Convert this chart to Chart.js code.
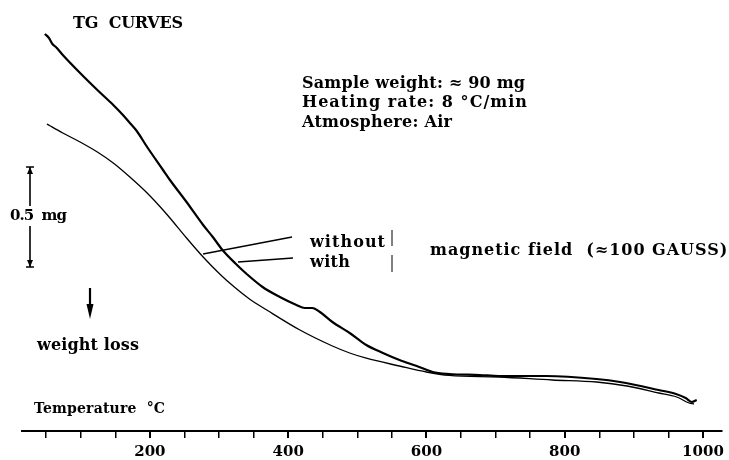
<!DOCTYPE html>
<html>
<head>
<meta charset="utf-8">
<script src="https://cdn.jsdelivr.net/npm/chart.js@4/dist/chart.umd.min.js"></script>
<style>
html,body{margin:0;padding:0;background:#fff;}
#wrap{width:729px;height:460px;}
</style>
</head>
<body>
<div id="wrap"><canvas id="c" width="729" height="460"></canvas></div>
<script>
// Temperature (°C) and relative sample weight (mg)
const tempWith = [48, 54, 59, 64, 74, 99, 124, 147, 161, 171, 181, 196, 219, 229, 253, 277, 291, 305, 326, 340, 363, 388, 412, 424, 435, 446, 464, 489, 513, 537, 561, 586, 609, 633, 677, 705, 773, 846, 880, 936, 961, 975, 984, 991];
const massWith = [1.985, 1.965, 1.935, 1.92, 1.88, 1.79, 1.705, 1.63, 1.58, 1.54, 1.50, 1.42, 1.305, 1.255, 1.145, 1.03, 0.97, 0.905, 0.83, 0.785, 0.72, 0.67, 0.63, 0.615, 0.615, 0.595, 0.545, 0.49, 0.43, 0.39, 0.355, 0.325, 0.295, 0.285, 0.28, 0.275, 0.275, 0.26, 0.245, 0.205, 0.185, 0.165, 0.145, 0.155];

const tempWithout = [51, 56, 74, 99, 124, 147, 171, 196, 219, 229, 253, 277, 301, 323, 344, 369, 417, 464, 489, 513, 561, 600, 633, 705, 782, 846, 890, 936, 962, 980, 987];
const massWithout = [1.535, 1.525, 1.49, 1.445, 1.395, 1.34, 1.27, 1.19, 1.105, 1.065, 0.965, 0.87, 0.785, 0.717, 0.66, 0.605, 0.505, 0.425, 0.39, 0.364, 0.325, 0.295, 0.278, 0.27, 0.255, 0.245, 0.225, 0.19, 0.17, 0.14, 0.135];

const tickValues = [50, 100, 150, 200, 250, 300, 350, 400, 450, 500, 550, 600, 650, 700, 750, 800, 850, 900, 950, 1000];
const labelValues = [200, 400, 600, 800, 1000];

const scaleBarTop = 1.32;   // mg
const scaleBarSize = 0.5;   // mg

const FONT = '"DejaVu Serif", "Liberation Serif", serif';

function fitText(ctx, text, x, y, size, width) {
  ctx.font = 'bold ' + size + 'px ' + FONT;
  if ('letterSpacing' in ctx) ctx.letterSpacing = '0px';
  const w = ctx.measureText(text).width;
  const n = [...text].length;
  const ls = n > 1 ? (width - w) / (n - 1) : 0;
  if ('letterSpacing' in ctx && ls > -1.5) {
    ctx.letterSpacing = ls + 'px';
    ctx.fillText(text, x, y);
    ctx.letterSpacing = '0px';
  } else {
    ctx.save();
    ctx.translate(x, y);
    ctx.scale(width / w, 1);
    ctx.fillText(text, 0, 0);
    ctx.restore();
  }
}

function line(ctx, x1, y1, x2, y2, w) {
  ctx.lineWidth = w;
  ctx.beginPath();
  ctx.moveTo(x1, y1);
  ctx.lineTo(x2, y2);
  ctx.stroke();
}

const annotations = {
  id: 'annotations',
  afterDraw(chart) {
    const ctx = chart.ctx;
    const ys = chart.scales.y;
    ctx.save();
    ctx.fillStyle = '#000';
    ctx.strokeStyle = '#000';
    ctx.textBaseline = 'alphabetic';
    ctx.textAlign = 'left';

    fitText(ctx, 'TG  CURVES', 73, 28, 16, 110);
    fitText(ctx, 'Sample weight: \u2248 90 mg', 302, 88, 16, 223);
    fitText(ctx, 'Heating rate: 8 \u00B0C/min', 302, 107, 16, 225);
    fitText(ctx, 'Atmosphere: Air', 302, 127, 16, 150);

    fitText(ctx, 'without', 310, 247, 16, 75);
    fitText(ctx, 'with', 310, 267, 16, 40);
    fitText(ctx, 'magnetic field  (\u2248100 GAUSS)', 430, 255, 16, 296);

    // pointer lines
    line(ctx, 292, 237, 203, 254, 1.3);
    line(ctx, 293, 258, 238, 262, 1.3);
    // bracket
    line(ctx, 392, 230, 392, 246, 1);
    line(ctx, 392, 255, 392, 272, 1);

    // 0.5 mg scale bar (through y scale)
    const yTop = ys.getPixelForValue(scaleBarTop);
    const yBot = ys.getPixelForValue(scaleBarTop - scaleBarSize);
    const bx = 30;
    line(ctx, bx, yTop, bx, 206, 1.6);
    line(ctx, bx, 226, bx, yBot, 1.6);
    line(ctx, bx - 4, yTop, bx + 4, yTop, 1.5);
    line(ctx, bx - 4, yBot, bx + 4, yBot, 1.5);
    ctx.beginPath();
    ctx.moveTo(bx, yTop); ctx.lineTo(bx - 3, yTop + 7); ctx.lineTo(bx + 3, yTop + 7); ctx.closePath(); ctx.fill();
    ctx.beginPath();
    ctx.moveTo(bx, yBot); ctx.lineTo(bx - 3, yBot - 7); ctx.lineTo(bx + 3, yBot - 7); ctx.closePath(); ctx.fill();
    fitText(ctx, '0.5  mg', 10, 220, 15, 57);

    // weight loss arrow
    line(ctx, 90, 288, 90, 306, 2.2);
    ctx.beginPath();
    ctx.moveTo(90, 319); ctx.lineTo(86.5, 304); ctx.lineTo(93.5, 304); ctx.closePath(); ctx.fill();
    fitText(ctx, 'weight loss', 37, 350, 16, 102);

    fitText(ctx, 'Temperature  \u00B0C', 34, 413, 14, 131);
    ctx.restore();
  }
};

const toPts = (xs, ys) => xs.map((x, i) => ({ x: x, y: ys[i] }));

new Chart(document.getElementById('c'), {
  type: 'line',
  data: {
    datasets: [
      {
        label: 'with magnetic field',
        data: toPts(tempWith, massWith),
        borderColor: '#000',
        borderWidth: 2.2,
        pointRadius: 0,
        cubicInterpolationMode: 'monotone',
        fill: false
      },
      {
        label: 'without magnetic field',
        data: toPts(tempWithout, massWithout),
        borderColor: '#000',
        borderWidth: 1.3,
        pointRadius: 0,
        cubicInterpolationMode: 'monotone',
        fill: false
      }
    ]
  },
  options: {
    responsive: false,
    animation: false,
    devicePixelRatio: 1,
    layout: { padding: { left: 22, right: 6, top: 0, bottom: 0 } },
    plugins: { legend: { display: false }, title: { display: false }, tooltip: { enabled: false } },
    scales: {
      x: {
        type: 'linear',
        position: 'bottom',
        min: 15,
        max: 1027,
        border: { display: true, color: '#000', width: 2 },
        grid: {
          display: true,
          drawOnChartArea: false,
          drawTicks: true,
          tickLength: 7,
          color: '#000',
          lineWidth: (c) => (c.tick && labelValues.includes(c.tick.value)) ? 2 : 1.5
        },
        afterBuildTicks: (s) => { s.ticks = tickValues.map(v => ({ value: v })); },
        afterFit: (s) => { s.height = 29; },
        ticks: {
          autoSkip: false,
          maxRotation: 0,
          padding: 5,
          color: '#000',
          font: { family: FONT, weight: 'bold', size: 15 },
          callback: (v) => labelValues.includes(v) ? String(v) : ''
        }
      },
      y: {
        type: 'linear',
        display: false,
        min: 0,
        max: 2.155
      }
    }
  },
  plugins: [annotations]
});
</script>
</body>
</html>
